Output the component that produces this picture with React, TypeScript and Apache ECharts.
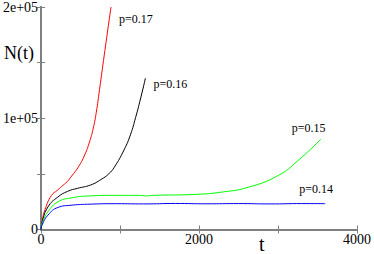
import React, { useEffect, useRef } from "react";
import * as echarts from "echarts";

const seriesNames = ["p=0.17", "p=0.16", "p=0.15", "p=0.14"];
const seriesColors = ["#ff0000", "#000000", "#00ff00", "#0000ff"];

const p017: [number, number][] = [
  [0, 0], [15, 8500], [50, 18000], [130, 30500], [210, 35500], [262, 38800],
  [330, 43000], [386, 48000], [470, 56000], [552, 67000], [614, 79000],
  [657, 90000], [698, 105000], [740, 126000], [800, 157000], [885, 200000],
];
const p016: [number, number][] = [
  [0, 0], [15, 7000], [87, 20300], [212, 29200], [336, 34300], [461, 37000],
  [627, 40000], [760, 45000], [856, 50000], [926, 55900], [1050, 71500],
  [1134, 85700], [1196, 100500], [1250, 115000], [1321, 136000],
];
const p015: [number, number][] = [
  [0, 0], [15, 6000], [87, 15900], [212, 24800], [378, 28300], [586, 30100],
  [959, 30700], [1250, 30700], [1330, 30200], [1420, 30700], [1965, 31600],
  [2296, 33700], [2629, 38100], [3003, 48600], [3252, 61900], [3542, 81200],
];
const p014: [number, number][] = [
  [0, 0], [15, 4500], [87, 12900], [212, 19800], [378, 21800], [586, 22700],
  [959, 23200], [1300, 23000], [1700, 23400], [2100, 23100], [2500, 23300],
  [2900, 23000], [3300, 23300], [3597, 23200],
];

const xTicks = [0, 2000, 4000];
const yTickLabels: Record<number, string> = { 0: "0", 100000: "1e+05", 200000: "2e+05" };

const labelOffsets: [number, number][] = [[0, 12], [0, 6], [-37, -11], [-34, -15]];

export default function App() {
  const ref = useRef<HTMLDivElement>(null);
  useEffect(() => {
    if (!ref.current) return;
    const chart = echarts.init(ref.current, null, { renderer: "svg" });
    const font = "Liberation Serif";
    const axisColor = "#808080";
    const datas = [p017, p016, p015, p014];
    const baseX = {
      type: "value" as const,
      min: 0,
      max: 4000,
      interval: 1000,
      axisLine: { show: true, lineStyle: { color: axisColor, width: 2 } },
      axisTick: { show: true, inside: true, length: 4, lineStyle: { color: axisColor, width: 1 } },
      splitLine: { show: false },
    };
    const baseY = {
      type: "value" as const,
      min: 0,
      max: 200000,
      interval: 50000,
      axisLine: { show: true, lineStyle: { color: axisColor, width: 2 } },
      axisTick: { show: true, inside: true, length: 4, lineStyle: { color: axisColor, width: 1 } },
      splitLine: { show: false },
    };
    chart.setOption({
      animation: false,
      backgroundColor: "#ffffff",
      grid: { left: 39, right: 14, top: 5, bottom: 24.5, containLabel: false },
      xAxis: [
        {
          ...baseX,
          position: "bottom",
          axisLabel: {
            show: true,
            color: "#000",
            fontFamily: font,
            fontSize: 14,
            margin: 3,
            formatter: (v: number) => (xTicks.includes(v) ? String(v) : ""),
          },
        },
        { ...baseX, position: "top", axisLabel: { show: false } },
      ],
      yAxis: [
        {
          ...baseY,
          position: "left",
          axisLabel: {
            show: true,
            color: "#000",
            fontFamily: font,
            fontSize: 14,
            margin: 3,
            formatter: (v: number) => yTickLabels[v] ?? "",
          },
        },
        { ...baseY, position: "right", axisLabel: { show: false } },
      ],
      graphic: [
        { type: "text", left: 4, top: 44, style: { text: "N(t)", font: `18px "${font}"`, fill: "#000" } },
        { type: "text", left: 259, top: 234, style: { text: "t", font: `20px "${font}"`, fill: "#000" } },
      ],
      series: datas.map((d, i) => ({
        type: "line",
        name: seriesNames[i],
        data: d,
        showSymbol: false,
        smooth: 0.5,
        lineStyle: { color: seriesColors[i], width: 1 },
        itemStyle: { color: seriesColors[i] },
        clip: true,
        endLabel: {
          show: true,
          formatter: seriesNames[i],
          color: "#000",
          fontFamily: font,
          fontSize: 12,
          offset: labelOffsets[i],
        },
      })),
    });
    return () => chart.dispose();
  }, []);
  return (
    <div
      ref={ref}
      style={{ position: "fixed", left: 0, top: 0, width: 374, height: 254 }}
    />
  );
}
